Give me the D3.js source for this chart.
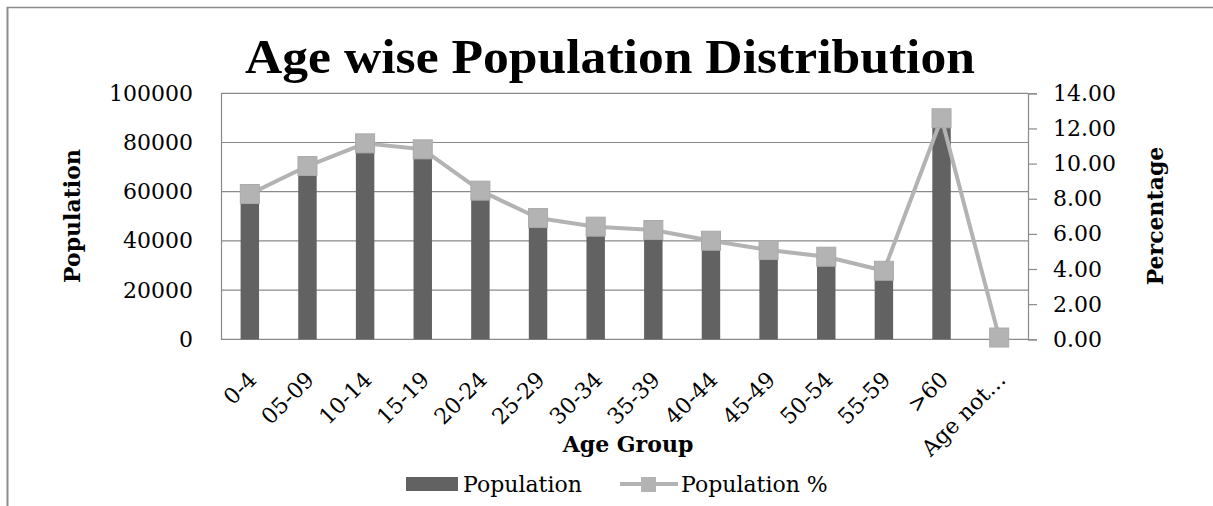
<!DOCTYPE html>
<html>
<head>
<meta charset="utf-8">
<script src="https://cdn.jsdelivr.net/npm/d3@7"></script>
<style>
  html, body { margin: 0; padding: 0; background: #fff; }
  svg { display: block; }
  text { font-family: "DejaVu Serif", "Liberation Serif", serif; fill: #000; }
</style>
</head>
<body>
<svg id="chart" width="1213" height="506"></svg>
<script>
// Age groups shown along the horizontal axis
const ageGroups = ["0-4", "05-09", "10-14", "15-19", "20-24", "25-29", "30-34",
                   "35-39", "40-44", "45-49", "50-54", "55-59", ">60", "Age not\u2026"];
// Head count per age group (left axis)
const population = [57900, 69000, 78000, 75700, 59200, 48300, 44900,
                    43500, 39300, 35600, 32900, 27300, 88100, 700];
// Share of total population in percent (right axis)
const populationPct = [8.27, 9.86, 11.15, 10.81, 8.46, 6.90, 6.41,
                       6.22, 5.61, 5.08, 4.70, 3.90, 12.58, 0.10];
// Axis tick values
const leftTicks = [0, 20000, 40000, 60000, 80000, 100000];
const rightTicks = [0, 2, 4, 6, 8, 10, 12, 14];

const svg = d3.select("#chart");
const W = 1213, H = 506;
const plot = { left: 221, right: 1028, top: 93.3, bottom: 339.3 };

const gridColor = "#8a8a8a";
const barColor = "#626262";
const lineColor = "#b3b3b3";

// Outer frame (top and left edges)
svg.append("line").attr("x1", 7).attr("x2", W).attr("y1", 7.5).attr("y2", 7.5)
  .attr("stroke", "#8c8c8c").attr("stroke-width", 1.5);
svg.append("line").attr("x1", 7.5).attr("x2", 7.5).attr("y1", 7).attr("y2", H)
  .attr("stroke", "#8c8c8c").attr("stroke-width", 2);

const x = d3.scaleBand().domain(ageGroups).range([plot.left, plot.right]).paddingInner(0.68).paddingOuter(0.34);
const yL = d3.scaleLinear().domain([0, 100000]).range([plot.bottom, plot.top]);
const yR = d3.scaleLinear().domain([0, 14]).range([plot.bottom, plot.top]);

// Horizontal gridlines
svg.append("g").selectAll("line").data(leftTicks.filter(d => d > 0)).join("line")
  .attr("x1", plot.left).attr("x2", plot.right)
  .attr("y1", d => yL(d)).attr("y2", d => yL(d))
  .attr("stroke", gridColor).attr("stroke-width", 1.2);

// Left axis labels
const leftAxis = d3.axisLeft(yL).tickValues(leftTicks).tickSize(0).tickPadding(28).tickFormat(d3.format("d"));
const gL = svg.append("g").attr("transform", `translate(${plot.left},0)`).call(leftAxis);
gL.select(".domain").attr("stroke", gridColor).attr("stroke-width", 1.2);
gL.selectAll("text").attr("font-size", 22).style("font-family", "DejaVu Serif").attr("fill", "#000");

// Right axis with outward ticks
const rightAxis = d3.axisRight(yR).tickValues(rightTicks).tickSize(9).tickPadding(16).tickFormat(d3.format(".2f"));
const gR = svg.append("g").attr("transform", `translate(${plot.right},0)`).call(rightAxis);
gR.select(".domain").attr("stroke", gridColor).attr("stroke-width", 1.2);
gR.selectAll(".tick line").attr("stroke", gridColor).attr("stroke-width", 1.2);
gR.selectAll("text").attr("font-size", 22).style("font-family", "DejaVu Serif").attr("fill", "#000");

// Bottom axis line
svg.append("line").attr("x1", plot.left).attr("x2", plot.right)
  .attr("y1", plot.bottom).attr("y2", plot.bottom)
  .attr("stroke", gridColor).attr("stroke-width", 1.2);

// Population bars
svg.append("g").selectAll("rect").data(ageGroups).join("rect")
  .attr("x", d => x(d))
  .attr("width", x.bandwidth())
  .attr("y", (d, i) => yL(population[i]))
  .attr("height", (d, i) => plot.bottom - yL(population[i]))
  .attr("fill", barColor);

// Percentage line with square markers
const cx = d => x(d) + x.bandwidth() / 2;
const line = d3.line().x((d, i) => cx(ageGroups[i])).y(d => yR(d));
svg.append("path").datum(populationPct).attr("d", line)
  .attr("fill", "none").attr("stroke", lineColor).attr("stroke-width", 4).attr("stroke-linejoin", "round");
const mk = 19;
svg.append("g").selectAll("rect").data(populationPct).join("rect")
  .attr("x", (d, i) => cx(ageGroups[i]) - mk / 2)
  .attr("y", d => yR(d) - mk / 2)
  .attr("width", mk).attr("height", mk)
  .attr("fill", lineColor).attr("stroke", "#aaaaaa").attr("stroke-width", 1);

// Category labels, rotated
svg.append("g").selectAll("text").data(ageGroups).join("text")
  .attr("transform", d => `translate(${cx(d) + 8},${381}) rotate(-45)`)
  .attr("text-anchor", "end")
  .attr("font-size", 22)
  .text(d => d);

// Title
svg.append("text").attr("x", 610).attr("y", 73).attr("text-anchor", "middle")
  .style("font-family", "'Liberation Serif', serif").attr("font-weight", "bold").attr("font-size", 48)
  .attr("textLength", 730).attr("lengthAdjust", "spacingAndGlyphs")
  .text("Age wise Population Distribution");

// Axis titles
svg.append("text").attr("x", 628).attr("y", 452).attr("text-anchor", "middle")
  .attr("font-weight", "bold").attr("font-size", 22).text("Age Group");
svg.append("text").attr("transform", `translate(80,216) rotate(-90)`).attr("text-anchor", "middle")
  .attr("font-weight", "bold").attr("font-size", 22).text("Population");
svg.append("text").attr("transform", `translate(1163,216) rotate(-90)`).attr("text-anchor", "middle")
  .attr("font-weight", "bold").attr("font-size", 22).text("Percentage");

// Legend
const lg = svg.append("g");
lg.append("rect").attr("x", 406).attr("y", 477).attr("width", 52).attr("height", 14).attr("fill", barColor);
lg.append("text").attr("x", 463).attr("y", 492).attr("font-size", 22).text("Population");
lg.append("line").attr("x1", 620).attr("x2", 678).attr("y1", 484).attr("y2", 484)
  .attr("stroke", lineColor).attr("stroke-width", 4);
lg.append("rect").attr("x", 641).attr("y", 477).attr("width", 15).attr("height", 15).attr("fill", lineColor);
lg.append("text").attr("x", 681).attr("y", 492).attr("font-size", 22).text("Population %");
</script>
</body>
</html>
